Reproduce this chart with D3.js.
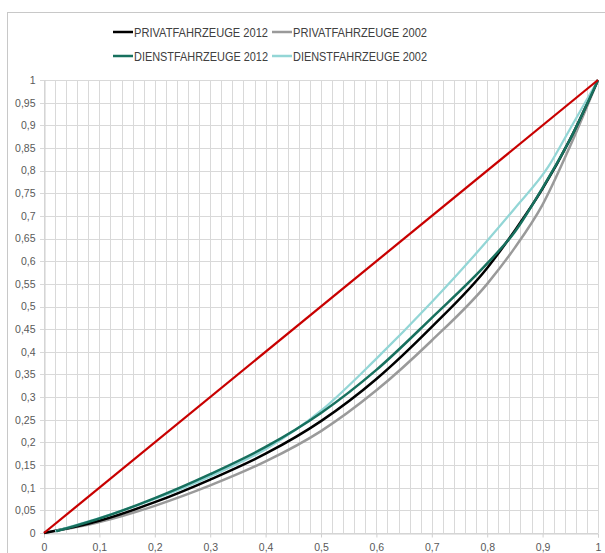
<!DOCTYPE html>
<html><head><meta charset="utf-8">
<script src="https://cdn.jsdelivr.net/npm/d3@7"></script>
<style>
body{margin:0;background:#fff;}
svg{display:block;font-family:"Liberation Sans",Arial,sans-serif;}
</style></head>
<body><svg id="c" width="605" height="553"></svg>
<script>
// ---- data ----
const seriesNames = ["PRIVATFAHRZEUGE 2012","PRIVATFAHRZEUGE 2002","DIENSTFAHRZEUGE 2012","DIENSTFAHRZEUGE 2002"];
const seriesColors = ["#000000","#9a9a9a","#17705e","#93d6d6"];
const privat2012X = [0, 0.1, 0.2, 0.3, 0.4, 0.5, 0.6, 0.7, 0.8, 0.85, 0.9, 0.95, 1];
const privat2012Y = [0, 0.027, 0.068, 0.118, 0.175, 0.247, 0.340, 0.455, 0.585, 0.668, 0.760, 0.870, 1];
const privat2002X = [0, 0.1, 0.2, 0.3, 0.4, 0.5, 0.6, 0.7, 0.8, 0.85, 0.9, 0.95, 1];
const privat2002Y = [0, 0.024, 0.060, 0.105, 0.158, 0.225, 0.315, 0.425, 0.550, 0.630, 0.725, 0.855, 1];
const dienst2012X = [0.022, 0.1, 0.2, 0.3, 0.4, 0.5, 0.6, 0.7, 0.8, 0.85, 0.9, 0.95, 1];
const dienst2012Y = [0.004, 0.032, 0.077, 0.130, 0.190, 0.265, 0.360, 0.475, 0.595, 0.665, 0.762, 0.870, 1];
const dienst2002X = [0.02, 0.1, 0.2, 0.3, 0.4, 0.5, 0.6, 0.7, 0.8, 0.85, 0.91, 0.95, 1];
const dienst2002Y = [0.004, 0.033, 0.075, 0.125, 0.185, 0.270, 0.385, 0.510, 0.645, 0.717, 0.808, 0.893, 1];
const equalityX = [0, 1];
const equalityY = [0, 1];
const xTicks = [0,0.1,0.2,0.3,0.4,0.5,0.6,0.7,0.8,0.9,1];
const yTicks = [0,0.05,0.1,0.15,0.2,0.25,0.3,0.35,0.4,0.45,0.5,0.55,0.6,0.65,0.7,0.75,0.8,0.85,0.9,0.95,1];
const xGrid = d3.range(0, 51).map(i => i / 50);

// ---- layout ----
const svg = d3.select("#c");
const x = d3.scaleLinear().domain([0,1]).range([44, 598]);
const y = d3.scaleLinear().domain([0,1]).range([533, 80]);
const fmt = d => String(+d.toFixed(2)).replace(".", ",");

// chart border
svg.append("rect").attr("x",7.5).attr("y",12.5).attr("width",610).attr("height",560)
  .attr("fill","#fff").attr("stroke","#c8c8c8").attr("stroke-width",1);

// gridlines
const grid = svg.append("g");
grid.selectAll("line.v").data(xGrid).join("line").attr("class","v")
  .attr("x1",d=>Math.round(x(d))+0.5).attr("x2",d=>Math.round(x(d))+0.5)
  .attr("y1",y(1)).attr("y2",y(0)).attr("stroke","#d9d9d9").attr("stroke-width",1);
grid.selectAll("line.h").data(yTicks).join("line").attr("class","h")
  .attr("x1",x(0)-4).attr("x2",x(1))
  .attr("y1",d=>Math.round(y(d))+0.5).attr("y2",d=>Math.round(y(d))+0.5)
  .attr("stroke","#d9d9d9").attr("stroke-width",1);

// axes
const yAxis = svg.append("g").attr("transform",`translate(${Math.round(x(0))+0.5},0)`)
  .call(d3.axisLeft(y).tickValues(yTicks).tickFormat(fmt).tickSize(0).tickPadding(9));
yAxis.select(".domain").attr("stroke","#d0d0d0");
yAxis.selectAll("text").attr("fill","#595959").style("font-size","10.5px")
  .style("font-family","'Liberation Sans',Arial,sans-serif");

const xAxis = svg.append("g").attr("transform",`translate(0,${Math.round(y(0))+0.5})`)
  .call(d3.axisBottom(x).tickValues(xTicks).tickFormat(fmt).tickSize(4).tickPadding(6));
xAxis.select(".domain").attr("stroke","#d0d0d0");
xAxis.selectAll(".tick line").attr("stroke","#d0d0d0");
xAxis.selectAll("text").attr("fill","#595959").style("font-size","10.5px")
  .style("font-family","'Liberation Sans',Arial,sans-serif");

// series
const toPts = (xs, ys) => xs.map((v,i)=>[v, ys[i]]);
const line = d3.line().x(d=>x(d[0])).y(d=>y(d[1])).curve(d3.curveMonotoneX);
const series = [
  {pts: toPts(privat2002X, privat2002Y), color: seriesColors[1], w: 2.5},
  {pts: toPts(privat2012X, privat2012Y), color: seriesColors[0], w: 2.5},
  {pts: toPts(dienst2002X, dienst2002Y), color: seriesColors[3], w: 2.25},
  {pts: toPts(dienst2012X, dienst2012Y), color: seriesColors[2], w: 2.5},
];
series.forEach(s => svg.append("path").attr("d", line(s.pts)).attr("fill","none")
  .attr("stroke", s.color).attr("stroke-width", s.w).attr("stroke-linejoin","round"));
svg.append("path").attr("d", d3.line().x(d=>x(d[0])).y(d=>y(d[1]))(toPts(equalityX, equalityY)))
  .attr("fill","none").attr("stroke","#c80000").attr("stroke-width",2.25);

// legend
const legendPos = [[113,32],[272,32],[113,56],[272,56]];
seriesNames.forEach((n,i) => {
  const [lx, ly] = legendPos[i];
  svg.append("line").attr("x1",lx).attr("x2",lx+20).attr("y1",ly).attr("y2",ly)
    .attr("stroke",seriesColors[i]).attr("stroke-width",2.5);
  svg.append("text").attr("x",lx+21).attr("y",ly+5).text(n)
    .attr("fill","#404040").style("font-size","13.5px")
    .attr("textLength",134).attr("lengthAdjust","spacingAndGlyphs");
});
</script></body></html>
